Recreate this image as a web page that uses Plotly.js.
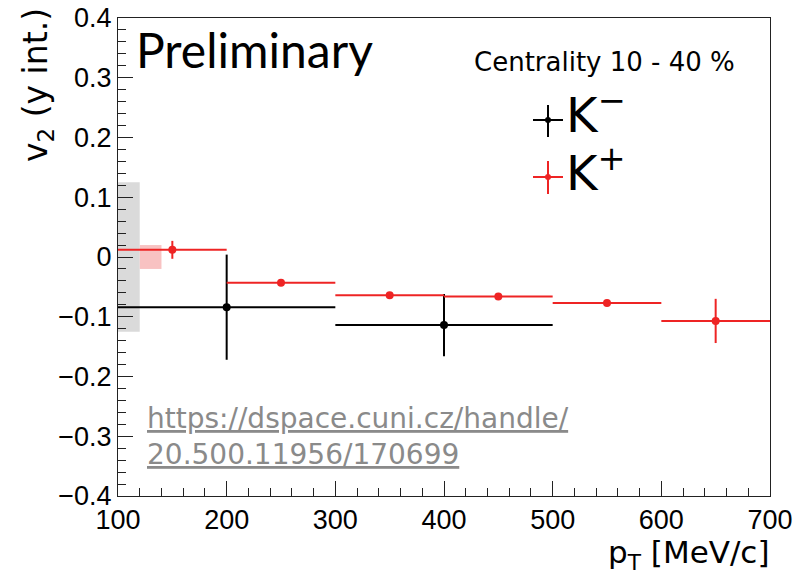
<!DOCTYPE html>
<html>
<head>
<meta charset="utf-8">
<script src="https://cdn.plot.ly/plotly-3.0.1.min.js"></script>
<style>html,body{margin:0;padding:0;background:#fff;}#chart{width:800px;height:576px;}</style>
</head>
<body>
<div id="chart"></div>
<script>
// ---- data ----
const kplusPt = [150, 250, 350, 450, 550, 650];
const kplusV2 = [0.012, -0.043, -0.064, -0.066, -0.077, -0.107];
const kplusBinHalf = [50, 50, 50, 50, 50, 50];
const kplusErr = [0.015, 0.004, 0.004, 0.004, 0.004, 0.037];

const kminusPt = [200, 400];
const kminusV2 = [-0.084, -0.114];
const kminusBinHalf = [100, 100];
const kminusErr = [0.088, 0.052];

// global systematic boxes: [x0, x1, half-height]
const sysKminus = [100, 120, 0.125];
const sysKplus = [120, 140, 0.02];

const xTickVals = [100, 200, 300, 400, 500, 600, 700];

// ---- layout helpers ----
const L = 118, R = 30, T = 18, B = 80, W = 800, H = 576;
const pw = W - L - R, ph = H - T - B;
const px = x => (x - L) / pw;
const py = y => (H - B - y) / ph;

const RED = '#ee2424';
const FONT = 'Liberation Sans, Arial, sans-serif';
const WIDE = 'DejaVu Sans, sans-serif';

const traces = [
  {
    x: kminusPt, y: kminusV2, type: 'scatter', mode: 'markers',
    marker: {color: '#000', size: 8},
    error_x: {type: 'data', array: kminusBinHalf, color: '#000', thickness: 2, width: 0},
    error_y: {type: 'data', array: kminusErr, color: '#000', thickness: 2, width: 0},
    name: 'K-', showlegend: false, hoverinfo: 'x+y'
  },
  {
    x: kplusPt, y: kplusV2, type: 'scatter', mode: 'markers',
    marker: {color: RED, size: 8},
    error_x: {type: 'data', array: kplusBinHalf, color: RED, thickness: 2, width: 0},
    error_y: {type: 'data', array: kplusErr, color: RED, thickness: 2, width: 0},
    name: 'K+', showlegend: false, hoverinfo: 'x+y'
  }
];

const shapes = [
  {type: 'rect', xref: 'x', yref: 'y', x0: sysKminus[0], x1: sysKminus[1], y0: -sysKminus[2], y1: sysKminus[2],
   fillcolor: '#dadada', line: {width: 0}, layer: 'below'},
  {type: 'rect', xref: 'x', yref: 'y', x0: sysKplus[0], x1: sysKplus[1], y0: -sysKplus[2], y1: sysKplus[2],
   fillcolor: '#f8c2c2', line: {width: 0}, layer: 'below'},
  // legend glyphs
  {type: 'line', xref: 'paper', yref: 'paper', x0: px(533), x1: px(563), y0: py(120), y1: py(120), line: {color: '#000', width: 2}},
  {type: 'line', xref: 'paper', yref: 'paper', x0: px(548), x1: px(548), y0: py(105), y1: py(137), line: {color: '#000', width: 2}},
  {type: 'circle', xref: 'paper', yref: 'paper', x0: px(545), x1: px(551), y0: py(117), y1: py(123), fillcolor: '#000', line: {color: '#000', width: 0}},
  {type: 'line', xref: 'paper', yref: 'paper', x0: px(533), x1: px(563), y0: py(177), y1: py(177), line: {color: RED, width: 2}},
  {type: 'line', xref: 'paper', yref: 'paper', x0: px(548), x1: px(548), y0: py(161), y1: py(194), line: {color: RED, width: 2}},
  {type: 'circle', xref: 'paper', yref: 'paper', x0: px(545), x1: px(551), y0: py(174), y1: py(180), fillcolor: RED, line: {color: RED, width: 0}}
];

const ann = (text, x, y, size, opts) => Object.assign({
  text: text, xref: 'paper', yref: 'paper', x: px(x), y: py(y), showarrow: false,
  xanchor: 'left', yanchor: 'middle', font: {family: FONT, size: size, color: '#000'}
}, opts || {});

const annotations = [
  ann('Preliminary', 134, 50, 48, {font: {family: 'Lato, sans-serif', size: 48, color: '#000'}}),
  ann('Centrality 10 - 40 %', 472, 62, 26, {font: {family: WIDE, size: 26, color: '#000'}}),
  ann('K<sup>\u2212</sup>', 564, 112, 48, {font: {family: WIDE, size: 48, color: '#000'}}),
  ann('K<sup>+</sup>', 564, 170, 48, {font: {family: WIDE, size: 48, color: '#000'}}),
  ann('<u>https://dspace.cuni.cz/handle/</u>', 145, 418, 28, {font: {family: WIDE, size: 28, color: '#8a8a8a'}}),
  ann('<u>20.500.11956/170699</u>', 145, 454, 28, {font: {family: WIDE, size: 28, color: '#8a8a8a'}}),
  ann('v<sub>2</sub> (y int.)', 37, 6, 33, {xanchor: 'center', yanchor: 'top', textangle: -90, font: {family: WIDE, size: 33, color: '#000'}}),
  ann('p<sub>T</sub> [MeV/c]', 772, 554, 31, {xanchor: 'right', font: {family: WIDE, size: 31, color: '#000'}})
];

const axisCommon = {
  showgrid: false, zeroline: false, showline: true, linecolor: '#222', linewidth: 1, mirror: true,
  ticks: 'inside', tickcolor: '#222', tickwidth: 1,
  tickfont: {family: FONT, size: 27, color: '#000'}
};

const layout = {
  width: W, height: H,
  margin: {l: L, r: R, t: T, b: B},
  paper_bgcolor: '#fff', plot_bgcolor: '#fff',
  showlegend: false,
  xaxis: Object.assign({}, axisCommon, {
    range: [100, 700], tickvals: xTickVals, ticklen: 15,
    minor: {dtick: 20, tick0: 100, ticks: 'inside', ticklen: 8, tickcolor: '#222'}
  }),
  yaxis: Object.assign({}, axisCommon, {
    range: [-0.4, 0.4], dtick: 0.1, tick0: 0, ticklen: 15,
    minor: {dtick: 0.02, tick0: 0, ticks: 'inside', ticklen: 8, tickcolor: '#222'}
  }),
  shapes: shapes,
  annotations: annotations
};

Plotly.newPlot('chart', traces, layout, {displayModeBar: false, staticPlot: true});
</script>
</body>
</html>
